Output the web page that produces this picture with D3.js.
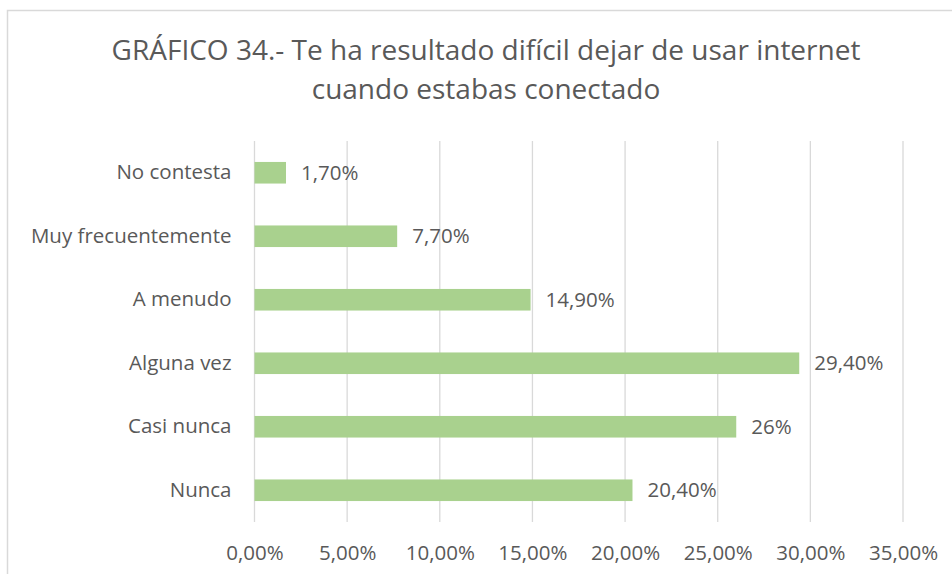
<!DOCTYPE html>
<html>
<head>
<meta charset="utf-8">
<script src="https://cdn.jsdelivr.net/npm/d3@7"></script>
<style>
  body { margin: 0; background: #fff; }
  svg text { font-family: 'Open Sans', sans-serif; fill: #595959; }
</style>
</head>
<body>
<svg id="chart" width="952" height="574"></svg>
<script>
// chart data
const categories = ['No contesta', 'Muy frecuentemente', 'A menudo', 'Alguna vez', 'Casi nunca', 'Nunca'];
const values = [1.7, 7.7, 14.9, 29.4, 26, 20.4];
const valueLabels = ['1,70%', '7,70%', '14,90%', '29,40%', '26%', '20,40%'];
const ticks = [0, 5, 10, 15, 20, 25, 30, 35];
const titleLines = ['GRÁFICO 34.- Te ha resultado difícil dejar de usar internet', 'cuando estabas conectado'];

const svg = d3.select('#chart');

// outer border of the chart (runs off the right and bottom)
svg.append('rect')
  .attr('x', 7.5).attr('y', 10.5)
  .attr('width', 1000).attr('height', 1000)
  .attr('fill', 'none').attr('stroke', '#d9d9d9').attr('stroke-width', 1.5);

const plotLeft = 254.5, plotRight = 903, plotTop = 141, plotBottom = 522;
const fontSize = '20.5px';

const x = d3.scaleLinear().domain([0, 35]).range([plotLeft, plotRight]);
const y = d3.scaleBand().domain(categories).range([plotTop, plotBottom]).paddingInner(0.66).paddingOuter(0.33);

// title
svg.selectAll('.title')
  .data(titleLines)
  .enter().append('text')
  .attr('class', 'title')
  .attr('x', 486)
  .attr('y', function (d, i) { return 60 + i * 38.5; })
  .attr('text-anchor', 'middle')
  .attr('font-size', '28px')
  .text(function (d) { return d; });

// gridlines
svg.append('g').selectAll('line')
  .data(ticks)
  .enter().append('line')
  .attr('x1', function (d) { return x(d); })
  .attr('x2', function (d) { return x(d); })
  .attr('y1', plotTop).attr('y2', plotBottom)
  .attr('stroke', '#d9d9d9').attr('stroke-width', 1.3);

// x axis labels
const xAxis = svg.append('g')
  .attr('transform', 'translate(0,' + plotBottom + ')')
  .call(d3.axisBottom(x).tickValues(ticks).tickSize(0).tickPadding(23)
    .tickFormat(function (d) { return d3.format('.2f')(d).replace('.', ',') + '%'; }));
xAxis.select('.domain').remove();
xAxis.attr('font-family', null);
xAxis.selectAll('text').attr('font-size', fontSize).attr('fill', '#595959');

// y axis labels
const yAxis = svg.append('g')
  .attr('transform', 'translate(' + plotLeft + ',0)')
  .call(d3.axisLeft(y).tickSize(0).tickPadding(23));
yAxis.select('.domain').remove();
yAxis.attr('font-family', null);
yAxis.selectAll('text').attr('font-size', fontSize).attr('fill', '#595959');

// bars
svg.append('g').selectAll('.bar')
  .data(values)
  .enter().append('rect')
  .attr('class', 'bar')
  .attr('x', x(0))
  .attr('y', function (d, i) { return y(categories[i]); })
  .attr('width', function (d) { return x(d) - x(0); })
  .attr('height', y.bandwidth())
  .attr('fill', '#a9d18e');

// value labels
svg.append('g').selectAll('.lbl')
  .data(values)
  .enter().append('text')
  .attr('class', 'lbl')
  .attr('x', function (d) { return x(d) + 15; })
  .attr('y', function (d, i) { return y(categories[i]) + y.bandwidth() / 2; })
  .attr('dy', '0.35em')
  .attr('font-size', fontSize)
  .text(function (d, i) { return valueLabels[i]; });
</script>
</body>
</html>
